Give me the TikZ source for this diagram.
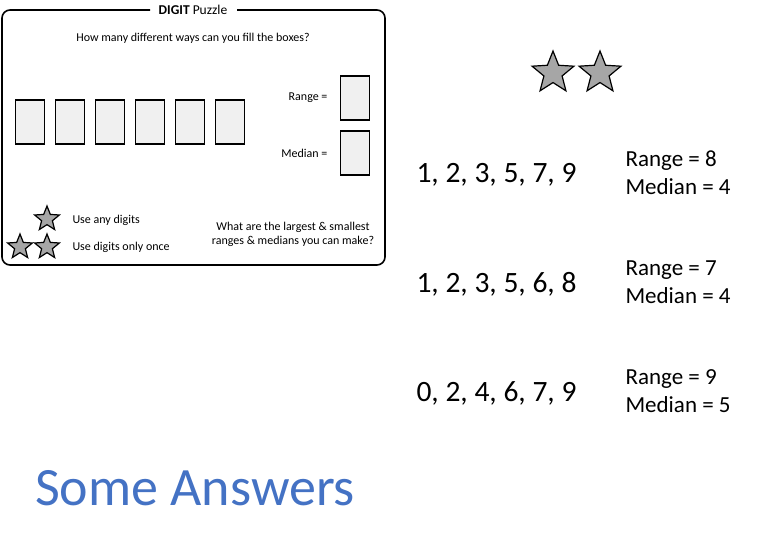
\documentclass[tikz,border=0pt]{standalone}
\usepackage{fontspec}
\setmainfont{Carlito}
\usetikzlibrary{shapes.geometric}
\definecolor{boxfill}{RGB}{240,240,240}
\definecolor{ansblue}{RGB}{68,114,196}
\begin{document}
\begin{tikzpicture}[x=1pt,y=-1pt,
  cell/.style={draw,line width=1.6pt,fill=boxfill,minimum width=29pt,minimum height=44pt,inner sep=0pt},
  starshape/.style={star,star points=5,star point ratio=2.3,draw,line width=1.2pt,fill=gray!70,inner sep=0pt},
  small/.style={font=\fontsize{12}{14}\selectfont,align=center},
  big/.style={font=\fontsize{29.5}{32}\selectfont,anchor=west},
  mid/.style={font=\fontsize{23}{28}\selectfont,anchor=west,align=left}]
\useasboundingbox (0,0) rectangle (780,540);
\draw[line width=1.6pt,rounded corners=8pt] (150,10) -- (2,10) -- (2,265) -- (385,265) -- (385,10) -- (237,10);
\node[font=\bfseries\fontsize{13.5}{15}\selectfont] (title) at (193,10) {DIGIT {\mdseries Puzzle}};
\node[small] (q) at (193,38) {How many different ways can you fill the boxes?};
\foreach \i/\x in {1/30,2/70,3/110,4/150,5/190,6/230}
  \node[cell] (c\i) at (\x,122) {};
\node[small,anchor=east] (rl) at (331,98) {Range =};
\node[small,anchor=east] (ml) at (331,153) {Median =};
\node[cell] (rb) at (355,98) {};
\node[cell] (mb) at (355,153) {};
\node[starshape,minimum size=26pt] (s1) at (47,219) {};
\node[starshape,minimum size=26pt] (s2) at (20,247) {};
\node[starshape,minimum size=26pt] (s3) at (47,247) {};
\node[small,anchor=west] (t1) at (69,220) {Use any digits};
\node[small,anchor=west] (t2) at (69,247) {Use digits only once};
\node[small] (t3) at (293,234) {What are the largest \& smallest\\ranges \& medians you can make?};
\node[starshape,minimum size=44pt] (b1) at (553,73) {};
\node[starshape,minimum size=44pt] (b2) at (600,73) {};
\node[big] (a1) at (413,175) {1, 2, 3, 5, 7, 9};
\node[mid] (r1) at (622,173) {Range = 8\\Median = 4};
\node[big] (a2) at (413,284) {1, 2, 3, 5, 6, 8};
\node[mid] (r2) at (622,282) {Range = 7\\Median = 4};
\node[big] (a3) at (413,393) {0, 2, 4, 6, 7, 9};
\node[mid] (r3) at (622,391) {Range = 9\\Median = 5};
\node[font=\fontsize{54}{60}\selectfont,text=ansblue] (sa) at (195,488) {Some Answers};
\end{tikzpicture}
\end{document}
